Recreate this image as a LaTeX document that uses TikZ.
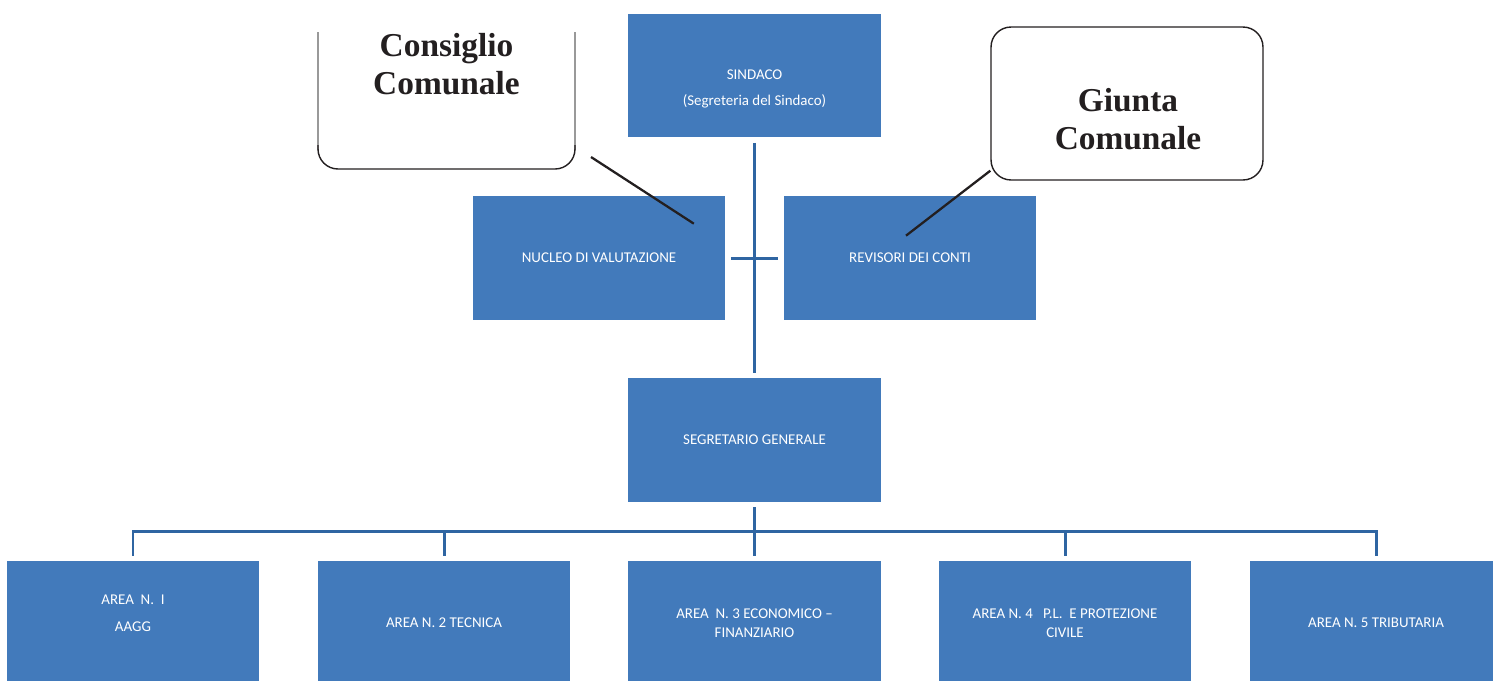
\documentclass[tikz,border=0pt]{standalone}
\usepackage{fontspec}
\setmainfont{Carlito}
\newfontfamily\councilfont{Liberation Serif}
\usetikzlibrary{calc}

\definecolor{officeblue}{HTML}{427ABB}
\definecolor{linkblue}{HTML}{2F65A2}
\definecolor{councilink}{HTML}{231F20}

\begin{document}
\begin{tikzpicture}[x=0.02cm,y=-0.02cm,
    office/.style={fill=officeblue, text=white, minimum width=5.06cm, minimum height=2.48cm,
        align=center, inner sep=0pt, font=\fontsize{8.5}{10.5}\selectfont},
    link/.style={linkblue, line width=1.7pt},
    pointer/.style={councilink, line width=1.3pt},
    council/.style={align=center, text=councilink, font=\councilfont\bfseries\fontsize{19}{21.6}\selectfont}]
    \clip (0,0) rectangle (1493,680);
    % top of the chart
    \node[office] (sindaco) at (754.5,75.5) {\phantom{A}\\[4.3pt]SINDACO\\[4.3pt](Segreteria del Sindaco)};
    \node[office] (nucleo) at (599,258) {NUCLEO DI VALUTAZIONE};
    \node[office] (revisori) at (910,258) {REVISORI DEI CONTI};
    \node[office] (segretario) at (754.5,440) {SEGRETARIO GENERALE};
    % the five areas
    \node[office] (area1) at (133,623) {AREA\ \ N.\ \ I\\[5pt]AAGG\\[1pt]\phantom{A}};
    \node[office] (area2) at (444,623) {AREA N. 2 TECNICA};
    \node[office] (area3) at (754.5,623) {AREA\ \ N. 3 ECONOMICO --\\FINANZIARIO};
    \node[office] (area4) at (1065,623) {AREA N. 4 \ \ P.L.\ \ E PROTEZIONE\\CIVILE};
    \node[office] (area5) at (1376,623) {AREA N. 5 TRIBUTARIA};
    % councils
    \draw[black!40, line width=0.6pt] (318,32) -- (318,150);
    \draw[black!40, line width=0.6pt] (575,32) -- (575,150);
    \draw[councilink, line width=0.8pt, rounded corners=0.4cm] (318,145) -- (318,169) -- (575,169) -- (575,145);
    \node[council] (consiglio) at (446.5,64) {Consiglio\\Comunale};
    \node[draw=councilink, line width=0.8pt, rounded corners=0.4cm, minimum width=5.44cm,
        minimum height=3.06cm] (giunta) at (1127,103.5) {};
    \node[council] (giuntatext) at (1128,119) {Giunta\\Comunale};
    % connectors
    \draw[link, shorten <=0.1cm, shorten >=0.1cm] (sindaco) -- (segretario);
    \draw[link, shorten <=0.1cm, shorten >=0.1cm] (nucleo) -- (revisori);
    \coordinate (bus) at (754.5,531);
    \draw[link] ([yshift=-0.1cm]segretario.south) -- (bus);
    \draw[link] ([yshift=0.1cm]area1.north) |- (bus -| area5.north) -- ([yshift=0.1cm]area5.north);
    \foreach \a in {2,3,4}
        \draw[link] (bus -| area\a.north) -- ([yshift=0.1cm]area\a.north);
    \coordinate (cc) at (591,157);
    \draw[pointer] (cc) -- ($(nucleo.north east)+(-32,28)$);
    \draw[pointer] ($(giunta.south west)+(0,-10)$) -- ($(revisori.north)+(-4,40)$);
\end{tikzpicture}
\end{document}
